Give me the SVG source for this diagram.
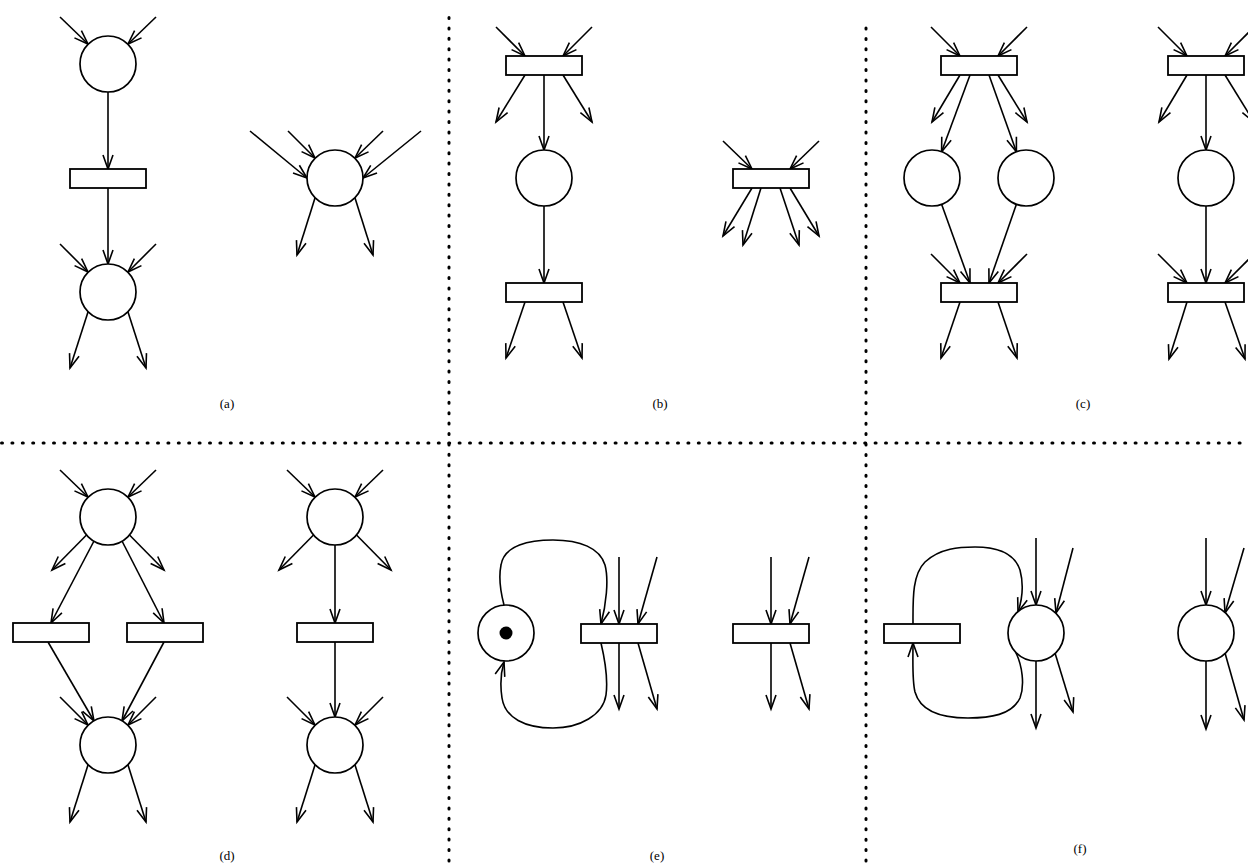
<svg xmlns="http://www.w3.org/2000/svg" width="1248" height="863" viewBox="0 0 1248 863">
<style>
.e{fill:none;stroke:#000;stroke-width:1.6;marker-end:url(#ah)}
.p{fill:#fff;stroke:#000;stroke-width:1.7}
.t{fill:#fff;stroke:#000;stroke-width:1.8}
.d{fill:none;stroke:#000;stroke-width:3;stroke-dasharray:1 9.4;stroke-linecap:round}
.l{font-family:"Liberation Serif","Times New Roman",serif;font-size:13px;text-anchor:middle;fill:#000}
</style>
<defs>
<marker id="ah" viewBox="-16 -7 20 14" markerWidth="20" markerHeight="14" refX="0" refY="0" orient="auto" markerUnits="userSpaceOnUse">
<path d="M-14,-5 L0,0 L-14,5" fill="none" stroke="#000" stroke-width="1.6"/>
</marker>
</defs>
<rect width="1248" height="863" fill="#fff"/>
<g id="separators">
<line class="d" x1="449" y1="17.5" x2="449" y2="863"/>
<line class="d" x1="866" y1="28" x2="866" y2="863"/>
<line class="d" x1="1.5" y1="443" x2="1250" y2="443"/>
</g>
<g id="connectors">
<!-- (a) -->
<line class="e" x1="60" y1="17" x2="88" y2="44"/>
<line class="e" x1="156" y1="17" x2="128" y2="44"/>
<line class="e" x1="108" y1="92" x2="108" y2="169"/>
<line class="e" x1="108" y1="188" x2="108" y2="264"/>
<line class="e" x1="60" y1="244" x2="88" y2="272"/>
<line class="e" x1="156" y1="244" x2="128" y2="272"/>
<line class="e" x1="88" y1="312" x2="70" y2="368"/>
<line class="e" x1="128" y1="312" x2="146" y2="368"/>
<line class="e" x1="250" y1="131" x2="307" y2="178"/>
<line class="e" x1="288" y1="131" x2="315" y2="158"/>
<line class="e" x1="383" y1="131" x2="355" y2="158"/>
<line class="e" x1="421" y1="131" x2="363" y2="178"/>
<line class="e" x1="315" y1="198" x2="297" y2="255"/>
<line class="e" x1="355" y1="198" x2="373" y2="255"/>
<!-- (b) -->
<line class="e" x1="496" y1="27" x2="525" y2="56"/>
<line class="e" x1="592" y1="27" x2="563" y2="56"/>
<line class="e" x1="525" y1="75" x2="496" y2="122"/>
<line class="e" x1="563" y1="75" x2="592" y2="122"/>
<line class="e" x1="544" y1="75" x2="544" y2="150"/>
<line class="e" x1="544" y1="206" x2="544" y2="283"/>
<line class="e" x1="525" y1="302" x2="506" y2="358"/>
<line class="e" x1="563" y1="302" x2="582" y2="358"/>
<line class="e" x1="723" y1="141" x2="752" y2="169"/>
<line class="e" x1="819" y1="141" x2="790" y2="169"/>
<line class="e" x1="752" y1="188" x2="723" y2="236"/>
<line class="e" x1="761" y1="188" x2="743" y2="245"/>
<line class="e" x1="780" y1="188" x2="799" y2="245"/>
<line class="e" x1="790" y1="188" x2="819" y2="236"/>
<!-- (c) -->
<line class="e" x1="931" y1="27" x2="960" y2="56"/>
<line class="e" x1="1027" y1="27" x2="998" y2="56"/>
<line class="e" x1="960" y1="75" x2="932" y2="122"/>
<line class="e" x1="998" y1="75" x2="1027" y2="122"/>
<line class="e" x1="970" y1="75" x2="941.6" y2="151.7"/>
<line class="e" x1="989" y1="75" x2="1016.4" y2="151.7"/>
<line class="e" x1="941.6" y1="204.3" x2="970" y2="283"/>
<line class="e" x1="1016.4" y1="204.3" x2="989" y2="283"/>
<line class="e" x1="931" y1="254" x2="960" y2="283"/>
<line class="e" x1="1027" y1="254" x2="998" y2="283"/>
<line class="e" x1="960" y1="302" x2="941" y2="358"/>
<line class="e" x1="998" y1="302" x2="1017" y2="358"/>
<line class="e" x1="1158" y1="27" x2="1187" y2="56"/>
<line class="e" x1="1254" y1="27" x2="1225" y2="56"/>
<line class="e" x1="1187" y1="75" x2="1159" y2="122"/>
<line class="e" x1="1225" y1="75" x2="1254" y2="122"/>
<line class="e" x1="1206" y1="75" x2="1206" y2="150"/>
<line class="e" x1="1206" y1="206" x2="1206" y2="283"/>
<line class="e" x1="1158" y1="254" x2="1187" y2="283"/>
<line class="e" x1="1254" y1="254" x2="1225" y2="283"/>
<line class="e" x1="1187" y1="302" x2="1169" y2="359"/>
<line class="e" x1="1225" y1="302" x2="1245" y2="359"/>
<!-- (d) -->
<line class="e" x1="60" y1="470" x2="88" y2="497"/>
<line class="e" x1="156" y1="470" x2="128" y2="497"/>
<line class="e" x1="86.5" y1="535" x2="52" y2="570"/>
<line class="e" x1="129.5" y1="535" x2="164" y2="570"/>
<line class="e" x1="94" y1="541" x2="51" y2="623"/>
<line class="e" x1="122" y1="541" x2="164" y2="623"/>
<line class="e" x1="48" y1="642" x2="94" y2="721"/>
<line class="e" x1="164" y1="642" x2="122" y2="721"/>
<line class="e" x1="60" y1="697" x2="88" y2="725"/>
<line class="e" x1="156" y1="697" x2="128" y2="725"/>
<line class="e" x1="88" y1="765" x2="70" y2="822"/>
<line class="e" x1="128" y1="765" x2="146" y2="822"/>
<line class="e" x1="287" y1="470" x2="315" y2="497"/>
<line class="e" x1="383" y1="470" x2="355" y2="497"/>
<line class="e" x1="313.5" y1="535" x2="279" y2="570"/>
<line class="e" x1="356.5" y1="535" x2="391" y2="570"/>
<line class="e" x1="335" y1="545" x2="335" y2="623"/>
<line class="e" x1="335" y1="642" x2="335" y2="717"/>
<line class="e" x1="287" y1="697" x2="315" y2="725"/>
<line class="e" x1="383" y1="697" x2="355" y2="725"/>
<line class="e" x1="315" y1="765" x2="297" y2="822"/>
<line class="e" x1="355" y1="765" x2="373" y2="822"/>
<!-- (e) -->
<path class="e" d="M504,605 C500,590 499,575 501,565 C504,545 530,540 553,540 C580,540 600,548 605,565 C609,580 606,605 601,624"/>
<path class="e" d="M601,643 C605,660 608,680 606,695 C603,715 580,728 553,728 C525,728 505,718 502,698 C500,685 501,672 504,662"/>
<line class="e" x1="619" y1="557" x2="619" y2="624"/>
<line class="e" x1="657" y1="557" x2="638" y2="624"/>
<line class="e" x1="619" y1="643" x2="619" y2="709"/>
<line class="e" x1="638" y1="643" x2="657" y2="709"/>
<line class="e" x1="771" y1="557" x2="771" y2="624"/>
<line class="e" x1="809" y1="557" x2="790" y2="624"/>
<line class="e" x1="771" y1="643" x2="771" y2="709"/>
<line class="e" x1="790" y1="643" x2="809" y2="709"/>
<!-- (f) -->
<path class="e" d="M913,624 C913,600 912,575 925,562 C940,548 960,547 975,547 C1000,547 1015,555 1020,570 C1024,585 1022,600 1018,612"/>
<path class="e" d="M1016,653 C1022,665 1025,685 1020,698 C1012,715 990,718 968,718 C940,718 920,710 915,692 C912,680 913,660 913,643"/>
<line class="e" x1="1036" y1="538" x2="1036" y2="605"/>
<line class="e" x1="1073" y1="548" x2="1056" y2="613"/>
<line class="e" x1="1036" y1="661" x2="1036" y2="728"/>
<line class="e" x1="1055" y1="653" x2="1073" y2="712"/>
<line class="e" x1="1206" y1="538" x2="1206" y2="605"/>
<line class="e" x1="1244" y1="548" x2="1225" y2="613"/>
<line class="e" x1="1206" y1="661" x2="1206" y2="729"/>
<line class="e" x1="1225" y1="653" x2="1244" y2="720"/>
</g>
<!-- nodes (a) -->
<g id="a-p1"><circle class="p" cx="108" cy="64" r="28"/></g>
<g id="a-t1"><rect class="t" x="70" y="169" width="76" height="19"/></g>
<g id="a-p2"><circle class="p" cx="108" cy="292" r="28"/></g>
<g id="a-p3"><circle class="p" cx="335" cy="178" r="28"/></g>
<!-- (b) -->
<g id="b-t1"><rect class="t" x="506" y="56" width="76" height="19"/></g>
<g id="b-p1"><circle class="p" cx="544" cy="178" r="28"/></g>
<g id="b-t2"><rect class="t" x="506" y="283" width="76" height="19"/></g>
<g id="b-t3"><rect class="t" x="733" y="169" width="76" height="19"/></g>
<!-- (c) -->
<g id="c-t1"><rect class="t" x="941" y="56" width="76" height="19"/></g>
<g id="c-p1"><circle class="p" cx="932" cy="178" r="28"/></g>
<g id="c-p2"><circle class="p" cx="1026" cy="178" r="28"/></g>
<g id="c-t2"><rect class="t" x="941" y="283" width="76" height="19"/></g>
<g id="c-t3"><rect class="t" x="1168" y="56" width="76" height="19"/></g>
<g id="c-p3"><circle class="p" cx="1206" cy="178" r="28"/></g>
<g id="c-t4"><rect class="t" x="1168" y="283" width="76" height="19"/></g>
<!-- (d) -->
<g id="d-p1"><circle class="p" cx="108" cy="517" r="28"/></g>
<g id="d-t1"><rect class="t" x="13" y="623" width="76" height="19"/></g>
<g id="d-t2"><rect class="t" x="127" y="623" width="76" height="19"/></g>
<g id="d-p2"><circle class="p" cx="108" cy="745" r="28"/></g>
<g id="d-p3"><circle class="p" cx="335" cy="517" r="28"/></g>
<g id="d-t3"><rect class="t" x="297" y="623" width="76" height="19"/></g>
<g id="d-p4"><circle class="p" cx="335" cy="745" r="28"/></g>
<!-- (e) -->
<g id="e-p1"><circle class="p" cx="506" cy="633" r="28"/><circle cx="506" cy="633" r="6.5" fill="#000"/></g>
<g id="e-t1"><rect class="t" x="581" y="624" width="76" height="19"/></g>
<g id="e-t2"><rect class="t" x="733" y="624" width="76" height="19"/></g>
<!-- (f) -->
<g id="f-t1"><rect class="t" x="884" y="624" width="76" height="19"/></g>
<g id="f-p1"><circle class="p" cx="1036" cy="633" r="28"/></g>
<g id="f-p2"><circle class="p" cx="1206" cy="633" r="28"/></g>
<g id="labels">
<text class="l" x="227" y="408">(a)</text>
<text class="l" x="660" y="408">(b)</text>
<text class="l" x="1083" y="408">(c)</text>
<text class="l" x="227" y="860">(d)</text>
<text class="l" x="657" y="860">(e)</text>
<text class="l" x="1080" y="853">(f)</text>
</g>
</svg>
